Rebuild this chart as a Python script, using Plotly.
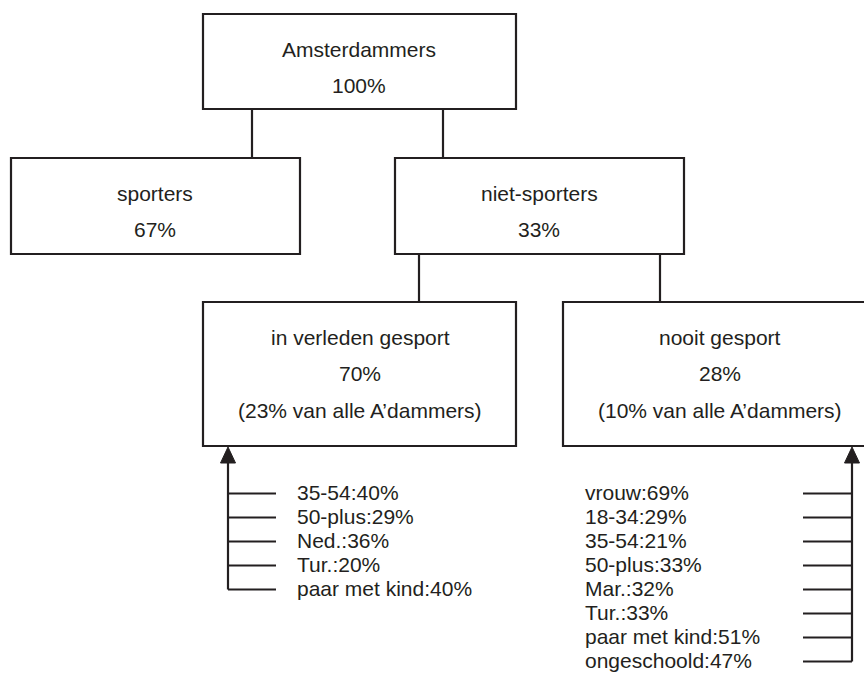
import plotly.graph_objects as go

# ---------------- data ----------------
node_names = ["Amsterdammers", "sporters", "niet-sporters", "in verleden gesport", "nooit gesport"]
node_pcts = [100, 67, 33, 70, 28]
node_share_all = [None, None, None, 23, 10]

left_labels = ["35-54", "50-plus", "Ned.", "Tur.", "paar met kind"]
left_values = [40, 29, 36, 20, 40]

right_labels = ["vrouw", "18-34", "35-54", "50-plus", "Mar.", "Tur.", "paar met kind", "ongeschoold"]
right_values = [69, 29, 21, 33, 32, 33, 51, 47]

# ---------------- layout geometry (pixels) ----------------
INK = "#231f20"
FONT = "Liberation Sans, Arial, Helvetica, sans-serif"
FS = 21
LW = 2.2

boxes = [  # x0, x1, y0, y1, text center x
    (203, 516, 14, 109, 359),
    (11, 300, 158, 254, 155),
    (395, 684, 158, 254, 539),
    (203, 516, 302, 446, 360),
    (563, 878, 302, 446, 720),
]

fig = go.Figure()
fig.add_trace(go.Scatter(x=[], y=[], showlegend=False))

shapes = []
annotations = []

def line(x0, y0, x1, y1):
    shapes.append(dict(type="line", xref="x", yref="y", x0=x0, y0=y0, x1=x1, y1=y1,
                       line=dict(color=INK, width=LW)))

def text(x, y, s, anchor="center"):
    annotations.append(dict(x=x, y=y, xref="x", yref="y", text=s, showarrow=False,
                            xanchor=anchor, yanchor="middle",
                            font=dict(family=FONT, size=FS, color=INK)))

for i, (x0, x1, y0, y1, cx) in enumerate(boxes):
    shapes.append(dict(type="rect", xref="x", yref="y", x0=x0, x1=x1, y0=y0, y1=y1,
                       line=dict(color=INK, width=LW), fillcolor="rgba(0,0,0,0)"))
    lines = [node_names[i], f"{node_pcts[i]}%"]
    if node_share_all[i] is not None:
        lines.append(f"({node_share_all[i]}% van alle A\u2019dammers)")
    y = y0 + 35
    for s in lines:
        text(cx, y, s)
        y += 36.5

# connectors
line(252, 109, 252, 158)
line(443, 109, 443, 158)
line(419, 254, 419, 302)
line(660, 254, 660, 302)

# arrows with breakdowns
def arrow(x):
    shapes.append(dict(type="path", xref="x", yref="y",
                       path=f"M {x} 447 L {x-7.5} 463 L {x+7.5} 463 Z",
                       fillcolor=INK, line=dict(color=INK, width=1)))

row_y0 = 493.5
step = 24

# left
arrow(228)
ly = [row_y0 + k * step for k in range(len(left_labels))]
line(228, 460, 228, ly[-1])
for yy, lab, val in zip(ly, left_labels, left_values):
    line(228, yy, 276, yy)
    text(295, yy - 1, f"{lab}:{val}%", anchor="left")

# right
arrow(852)
ry = [row_y0 + k * step for k in range(len(right_labels))]
line(852, 460, 852, ry[-1])
for yy, lab, val in zip(ry, right_labels, right_values):
    line(803, yy, 852, yy)
    text(583, yy - 1, f"{lab}:{val}%", anchor="left")

fig.update_layout(
    width=864, height=673,
    margin=dict(l=0, r=0, t=0, b=0),
    paper_bgcolor="white", plot_bgcolor="white",
    xaxis=dict(range=[0, 864], visible=False, fixedrange=True),
    yaxis=dict(range=[673, 0], visible=False, fixedrange=True),
    shapes=shapes, annotations=annotations,
    showlegend=False,
)

fig.write_html(
    "out.html",
    config={"displayModeBar": False},
    post_script="document.body.style.margin='0px';document.body.style.overflow='hidden';",
)
